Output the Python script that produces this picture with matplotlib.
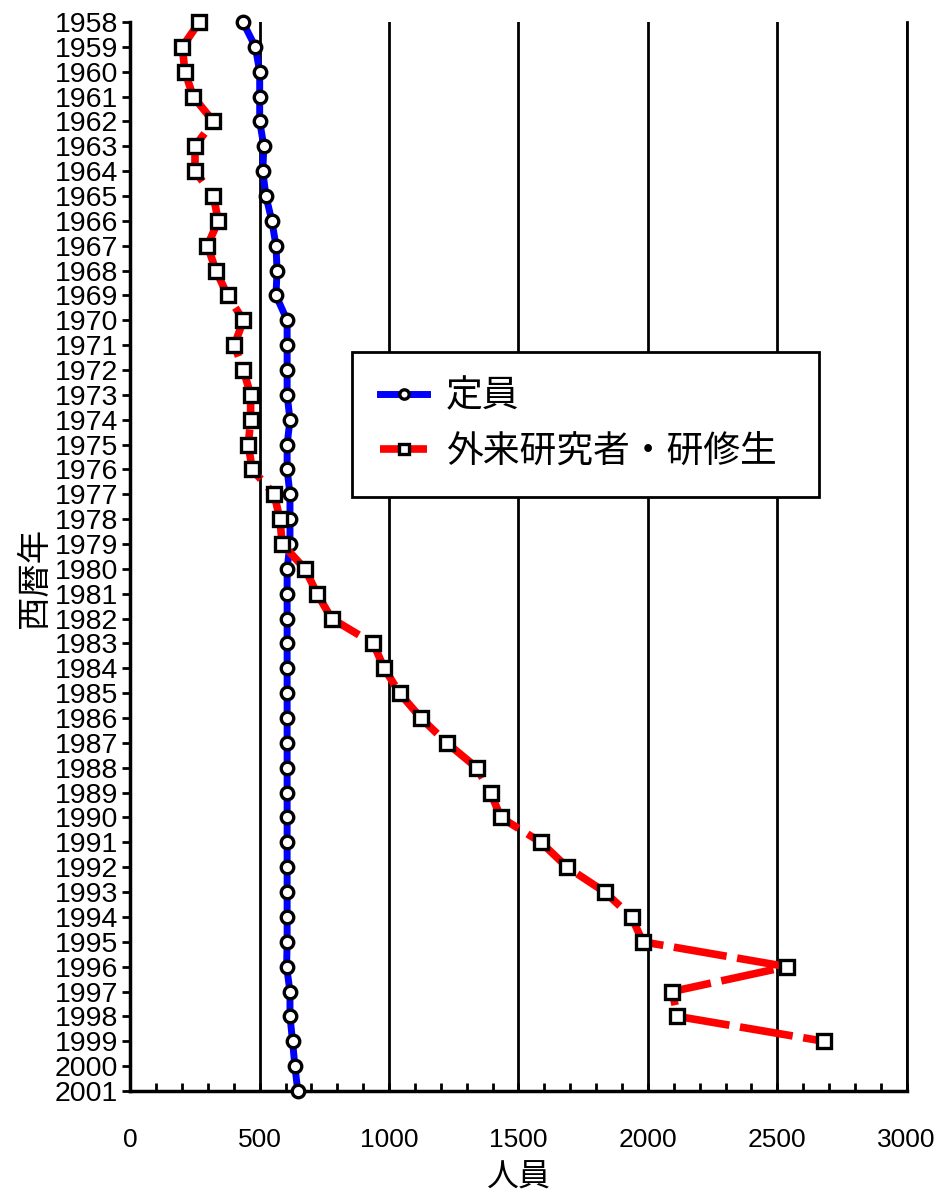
import numpy as np
import matplotlib
matplotlib.use('Agg')
from matplotlib import pyplot as plt
from matplotlib.ticker import MultipleLocator

plt.rcParams['font.family'] = ['Liberation Sans', 'Noto Sans CJK JP']

years = np.arange(1958, 2002)
teiin = [435, 483, 500, 500, 500, 516, 512, 524, 547, 563,
         567, 563, 606, 606, 606, 606, 617, 606, 606, 617,
         617, 617, 606, 606, 606, 606, 606, 606, 606, 606,
         606, 606, 606, 606, 606, 606, 606, 606, 604, 617,
         617, 627, 636, 647]
years_guest = np.arange(1958, 2000)
guest = [267, 201, 211, 243, 321, 250, 250, 321, 340, 298,
         331, 376, 437, 402, 437, 465, 465, 456, 471, 556,
         578, 587, 675, 722, 778, 939, 981, 1041, 1123, 1223,
         1339, 1392, 1432, 1587, 1688, 1834, 1937, 1980, 2537, 2094,
         2114, 2680]

fig = plt.figure(figsize=(9.36, 11.94), dpi=100)
ax = fig.add_axes([0.1392, 0.0863, 0.8295, 0.8953])

ax.plot(teiin, years, color='blue', lw=5, marker='o', ms=9,
        mfc='white', mec='black', mew=2.4, label='定員', clip_on=False, zorder=3)
ax.plot(guest, years_guest, color='red', lw=5.5, ls=(0, (7, 1.4)), marker='s', ms=9.5,
        mfc='white', mec='black', mew=2.4, label='外来研究者・研修生', clip_on=False, zorder=4)

ax.set_xlim(0, 3000)
ax.set_ylim(2001, 1958)
ax.set_yticks(years)
ax.set_yticklabels([str(y) for y in years])
ax.xaxis.set_major_locator(MultipleLocator(500))
ax.xaxis.set_minor_locator(MultipleLocator(100))

ax.xaxis.grid(True, which='major', color='black', lw=2)
ax.set_axisbelow(True)
ax.spines['top'].set_visible(False)
ax.spines['right'].set_visible(True)
ax.spines['right'].set_linewidth(2)
ax.spines['left'].set_linewidth(2.5)
ax.spines['bottom'].set_linewidth(2.5)

ax.tick_params(axis='y', direction='out', length=6, width=2, labelsize=20.5, pad=3)
ax.tick_params(axis='x', which='major', direction='in', length=6, width=2, labelsize=19, pad=27)
ax.tick_params(axis='x', which='minor', direction='in', length=6, width=2)
ax.tick_params(axis='y', which='minor', left=False)

ax.set_xlabel('人員', fontsize=23)
ax.xaxis.set_label_coords(0.5, -0.068)
ax.set_ylabel('西暦年', fontsize=24)
ax.yaxis.set_label_coords(-0.102, 0.48)

leg = ax.legend(loc='upper left', bbox_to_anchor=(0.2856, 0.5566, 0.6014, 0.1347),
                mode='expand', fontsize=26.5,
                handlelength=1.3, handletextpad=0.5, labelspacing=0.55,
                borderpad=0.75, borderaxespad=0, fancybox=False, framealpha=1,
                edgecolor='black', markerscale=0.75)
leg.get_frame().set_linewidth(2)

fig.savefig('out.png', dpi=100)
